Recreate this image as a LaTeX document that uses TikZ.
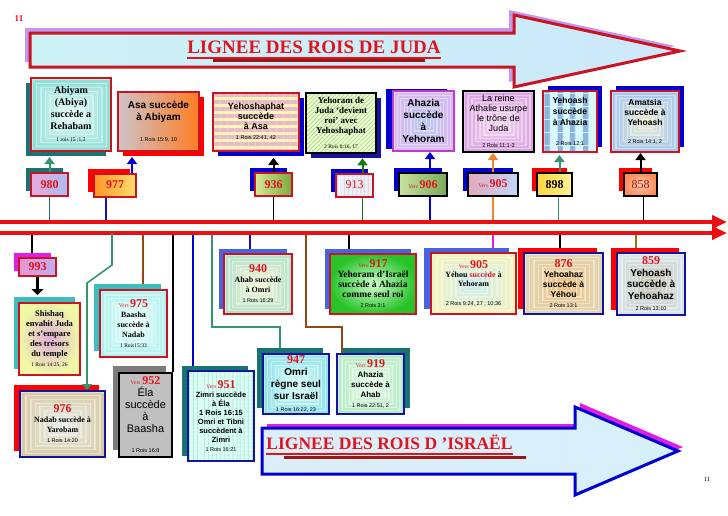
\documentclass[tikz,border=0pt]{standalone}
\usepackage{fontspec}
\setmainfont{Liberation Serif}
\setsansfont{Liberation Sans}
\usepackage{tikz}
\usetikzlibrary{arrows.meta, shadows, patterns.meta, backgrounds, calc}

\definecolor{vred}{RGB}{225,20,30}
\definecolor{bred}{RGB}{200,20,35}
\definecolor{dred}{RGB}{150,25,20}
\definecolor{tred}{RGB}{235,15,15}
\definecolor{kteal}{RGB}{25,115,115}
\definecolor{lteal}{RGB}{60,190,190}
\definecolor{kblue}{RGB}{0,0,210}
\definecolor{rblue}{RGB}{70,100,225}
\definecolor{knavy}{RGB}{20,20,160}
\definecolor{kmag}{RGB}{225,30,225}
\definecolor{lilac}{RGB}{195,150,240}
\definecolor{sgreen}{RGB}{50,150,110}
\definecolor{dgreen}{RGB}{20,120,20}
\definecolor{korange}{RGB}{240,130,50}
\definecolor{kbrown}{RGB}{150,70,20}
\definecolor{kolive}{RGB}{140,120,20}
\definecolor{kpurple}{RGB}{190,60,200}
\definecolor{kgray}{RGB}{125,125,125}
% fills
\definecolor{asagray}{RGB}{205,195,200}
\definecolor{asaorange}{RGB}{255,125,35}
\definecolor{ylight}{RGB}{255,245,185}
\definecolor{ypink}{RGB}{232,185,200}
\definecolor{ygreen}{RGB}{235,255,205}
\definecolor{hgreen}{RGB}{170,210,150}
\definecolor{ycyan}{RGB}{215,248,252}
\definecolor{ysteel}{RGB}{140,180,220}
\definecolor{zcyan}{RGB}{220,255,245}
\definecolor{zline}{RGB}{160,225,210}
\definecolor{silver}{RGB}{192,192,192}
\definecolor{shqin}{RGB}{225,175,215}
\definecolor{shqout}{RGB}{240,248,165}
\definecolor{gin}{RGB}{205,255,205}
\definecolor{gout}{RGB}{40,195,40}
\definecolor{jleft}{RGB}{205,242,246}
\definecolor{jmid}{RGB}{255,255,190}
\definecolor{jright}{RGB}{205,232,250}
\definecolor{ileft}{RGB}{220,238,248}
\definecolor{imid}{RGB}{248,212,224}
\definecolor{iright}{RGB}{215,240,250}
% concentric pairs
\definecolor{abiI}{RGB}{235,255,252}\definecolor{abiO}{RGB}{140,220,212}
\definecolor{ahzI}{RGB}{185,200,240}\definecolor{ahzO}{RGB}{220,185,240}
\definecolor{athI}{RGB}{248,216,240}\definecolor{athO}{RGB}{215,160,224}
\definecolor{amtI}{RGB}{240,240,208}\definecolor{amtO}{RGB}{160,196,240}
\definecolor{qaI}{RGB}{248,248,216}\definecolor{qaO}{RGB}{176,224,200}
\definecolor{qbI}{RGB}{200,236,240}\definecolor{qbO}{RGB}{248,244,184}
\definecolor{qcI}{RGB}{240,192,128}\definecolor{qcO}{RGB}{224,216,184}
\definecolor{qdI}{RGB}{200,192,176}\definecolor{qdO}{RGB}{216,232,240}
\definecolor{qeI}{RGB}{240,255,252}\definecolor{qeO}{RGB}{168,240,236}
\definecolor{qfI}{RGB}{232,240,240}\definecolor{qfO}{RGB}{216,200,160}
\definecolor{qgI}{RGB}{216,255,248}\definecolor{qgO}{RGB}{144,224,232}
\definecolor{qhI}{RGB}{240,255,240}\definecolor{qhO}{RGB}{176,232,192}

% square "concentric frames" shading
\newcommand\defconc[3]{%
  \pgfdeclarefunctionalshading{#1}{\pgfpoint{-50bp}{-50bp}}{\pgfpoint{50bp}{50bp}}%
  {\pgfshadecolortorgb{#2}{\csin}\pgfshadecolortorgb{#3}{\csout}}%
  {abs exch abs 2 copy lt {exch} if pop 25 div dup 1 gt {pop 1} if
   dup 9 mul dup floor sub 0.65 gt {0.4} {0} ifelse exch
   dup \csoutred\space\csinred\space sub mul \csinred\space add
   2 index 1 index 1 exch sub mul add
   1 index \csoutgreen\space\csingreen\space sub mul \csingreen\space add
   3 index 1 index 1 exch sub mul add
   2 index \csoutblue\space\csinblue\space sub mul \csinblue\space add
   4 index 1 index 1 exch sub mul add
   5 -2 roll pop pop}}
\defconc{cabi}{abiI}{abiO}
\defconc{cahz}{ahzI}{ahzO}
\defconc{cath}{athI}{athO}
\defconc{camt}{amtI}{amtO}
\defconc{cqa}{qaI}{qaO}
\defconc{cqb}{qbI}{qbO}
\defconc{cqc}{qcI}{qcO}
\defconc{cqd}{qdI}{qdO}
\defconc{cqe}{qeI}{qeO}
\defconc{cqf}{qfI}{qfO}
\defconc{cqg}{qgI}{qgO}
\defconc{cqh}{qhI}{qhO}

\newcommand\yrn[1]{{\rmfamily\bfseries\color{vred}\fontsize{12}{13}\selectfont #1}}
\newcommand\versyr[1]{{\rmfamily\mdseries\color{vred}\fontsize{5.5}{6}\selectfont Vers}\,\yrn{#1}}
\newcommand\rref[1]{{\mdseries\fontsize{5.5}{6.5}\selectfont #1}}

\begin{document}
\begin{tikzpicture}[x=1pt, y=-1pt,
  every node/.style={font=\small},
  shd/.style n args={3}{drop shadow={shadow xshift=#1, shadow yshift=#2, fill=#3, opacity=1}},
  kbox/.style={draw=bred, line width=2pt, align=center, inner sep=1pt},
  ybox/.style={kbox, minimum height=23pt, font=\rmfamily\bfseries},
  uarr/.style={line width=2pt, -{Triangle[length=7pt,width=10pt]}},
  dline/.style={line width=1.6pt},
  tline/.style={tred, line width=4pt, -{Triangle[length=15pt,width=13pt]}},
  ltitle/.style={text=vred, font=\rmfamily\bfseries\fontsize{#1}{20}\selectfont, inner sep=0pt},
]
\useasboundingbox (0,0) rectangle (728,515);
\begin{scope}[on background layer]
  \fill[white] (0,0) rectangle (728,515);
\end{scope}

\node[text=vred, font=\rmfamily\bfseries\fontsize{9}{10}\selectfont] (pgtop) at (19,19) {11};
\node[font=\rmfamily\fontsize{6.5}{7}\selectfont] (pgbot) at (707,479) {11};

% ── Title arrows ──
\draw[bred, line width=3pt, shd={-5pt}{5pt}{lilac}, left color=jleft, middle color=jmid, right color=jright]
  (30,33) -- (514,33) -- (514,15) -- (680,51) -- (514,87) -- (514,67) -- (30,67) -- cycle;
\node[ltitle=19] (tjuda) at (314,47.5) {LIGNEE DES ROIS DE JUDA};
\draw[vred, line width=2pt] ([yshift=-4pt]tjuda.base west) -- ([yshift=-4pt]tjuda.base east);
\draw[dred, line width=2.5pt] ([xshift=26pt,yshift=-7pt]tjuda.base west) -- ([xshift=-16pt,yshift=-7pt]tjuda.base east);

\draw[kblue, line width=3pt, shd={5pt}{4pt}{kmag}, left color=ileft, middle color=imid, right color=iright]
  (262,428) -- (575,428) -- (575,407) -- (678,451) -- (575,495) -- (575,474) -- (262,474) -- cycle;
\node[ltitle=17.5] (tisr) at (389.5,442.5) {LIGNEE DES ROIS D ’ISRAËL};
\draw[vred, line width=2pt] ([yshift=-4pt]tisr.base west) -- ([yshift=-4pt]tisr.base east);
\draw[dred, line width=2.5pt] ([xshift=18pt,yshift=-8pt]tisr.base west) -- ([xshift=13pt,yshift=-8pt]tisr.base east);

% ── Timeline ──
\coordinate (tlA) at (0,222);
\coordinate (tlAend) at (727,222);
\coordinate (tlB) at (0,233);
\coordinate (tlBend) at (727,233);
\draw[tline] (tlA) -- (tlAend);
\draw[tline] (tlB) -- (tlBend);

% ── Juda reigns ──
\node[kbox, shd={-5pt}{-5pt}{kteal}, shading=cabi, minimum width=80pt, minimum height=73pt,
      font=\rmfamily\bfseries\fontsize{10}{12}\selectfont] (abiyam) at (71,114.5)
      {Abiyam\\(Abiya)\\succède a\\Rehabam\\\rref{1 rois 15 :1,2}};
\node[kbox, shd={5pt}{-5pt}{red}, left color=asagray, right color=asaorange, minimum width=81pt, minimum height=59pt,
      font=\sffamily\bfseries\fontsize{10}{12}\selectfont] (asa) at (158.5,121.5)
      {Asa succède\\à Abiyam\\[9pt]\rref{1 Rois 15:9, 10}};
\node[kbox, shd={5pt}{-5pt}{kblue}, preaction={fill=ylight}, pattern={Lines[angle=0,distance=7pt,line width=3.5pt]},
      pattern color=ypink, minimum width=86pt, minimum height=58pt,
      font=\sffamily\bfseries\fontsize{9}{10}\selectfont] (ysh) at (256,122)
      {Yehoshaphat\\succède\\à Asa\\\rref{1 Rois 22:41, 42}};
\node[kbox, draw=black, shd={5pt}{-5pt}{knavy}, preaction={fill=ygreen}, pattern={Lines[angle=45,distance=3pt,line width=0.6pt]},
      pattern color=hgreen, minimum width=70pt, minimum height=60pt,
      font=\rmfamily\bfseries\fontsize{9}{10}\selectfont] (yhr) at (341,123)
      {Yehoram de\\Juda ‘devient\\roi’ avec\\Yehoshaphat\\[5pt]\rref{2 Rois 8:16, 17}};
\node[kbox, draw=kpurple, shd={-7pt}{2pt}{kblue}, shading=cahz, minimum width=61pt, minimum height=60pt,
      font=\sffamily\bfseries\fontsize{10}{12}\selectfont] (ahz) at (423.5,121)
      {Ahazia\\succède\\à\\Yehoram};
\node[kbox, draw=black, shading=cath, minimum width=71pt, minimum height=61pt,
      font=\sffamily\fontsize{9}{10}\selectfont] (ath) at (498.5,121.5)
      {La reine\\Athalie usurpe\\le trône de\\Juda\\[6pt]\rref{2 Rois 11:1-3}};
\node[kbox, shd={5pt}{5pt}{kblue}, preaction={fill=ycyan}, pattern={Lines[angle=90,distance=13pt,line width=6pt]},
      pattern color=ysteel, minimum width=54pt, minimum height=61pt,
      font=\sffamily\bfseries\fontsize{8.5}{11}\selectfont] (yhs) at (570,121.5)
      {Yehoash\\succède\\à Ahazia\\[9pt]\rref{2 Rois 12:1}};
\node[kbox, shd={5pt}{5pt}{kblue}, shading=camt, minimum width=68pt, minimum height=61pt,
      font=\sffamily\bfseries\fontsize{8.5}{10}\selectfont] (amt) at (645,121.5)
      {Amatsia\\succède à\\Yehoash\\[8pt]\rref{2 Rois 14:1, 2}};

% ── Juda dates ──
\node[ybox, shd={-5pt}{5pt}{kteal}, left color={rgb,255:red,230;green,170;blue,220}, right color={rgb,255:red,170;green,190;blue,240},
      minimum width=37pt] (y980) at (49.5,184.5) {\yrn{980}};
\node[ybox, shd={-6pt}{5pt}{red}, left color={rgb,255:red,255;green,150;blue,40}, right color={rgb,255:red,255;green,222;blue,110},
      minimum width=42pt] (y977) at (115,185) {\yrn{977}};
\node[ybox, shd={-5pt}{5pt}{kblue}, left color={rgb,255:red,215;green,232;blue,150}, right color={rgb,255:red,120;green,170;blue,60},
      minimum width=37pt] (y936) at (273.5,184.5) {\yrn{936}};
\node[ybox, shd={-5pt}{5pt}{kblue}, preaction={fill={rgb,255:red,230;green,244;blue,252}},
      pattern={Lines[angle=90,distance=4pt,line width=1pt]}, pattern color={rgb,255:red,240;green,190;blue,205},
      minimum width=37pt] (y913) at (354.5,185) {{\color{vred}\mdseries\fontsize{12}{13}\selectfont 913}};
\node[ybox, draw=black, shd={-5pt}{5pt}{kblue}, left color={rgb,255:red,200;green,225;blue,160}, right color={rgb,255:red,120;green,170;blue,90},
      minimum width=48pt] (y906) at (423,184.5) {\versyr{906}};
\node[ybox, draw=black, shd={-5pt}{5pt}{kblue}, left color={rgb,255:red,225;green,170;blue,190}, right color={rgb,255:red,190;green,215;blue,250},
      minimum width=50pt] (y905) at (493,184) {\versyr{905}};
\node[ybox, draw=black, shd={-5pt}{5pt}{red}, left color={rgb,255:red,255;green,212;blue,60}, right color={rgb,255:red,255;green,245;blue,150},
      minimum width=35pt] (y898) at (554.5,184.5) {\fontsize{12}{13}\selectfont 898};
\node[ybox, draw=black, shd={-5pt}{5pt}{red}, inner color={rgb,255:red,255;green,205;blue,175}, outer color={rgb,255:red,255;green,140;blue,90},
      minimum width=33pt] (y858) at (640.5,184.5) {{\color{dred}\mdseries\fontsize{12}{13}\selectfont 858}};

% ── Date → reign ──
\draw[uarr, sgreen] (y980.north) -- ([yshift=-5pt]y980.north |- abiyam.south);
\draw[uarr, kblue] ([xshift=17pt]y977.north) -- ([yshift=-5pt]$(y977.north |- asa.south)+(17,0)$);
\draw[uarr, black] (y936.north) -- ([yshift=-5pt]y936.north |- ysh.south);
\draw[uarr, dgreen] ([xshift=8pt]y913.north) -- ([yshift=-5pt]$(y913.north |- yhr.south)+(8,0)$);
\draw[uarr, kblue] ([xshift=7pt]y906.north) -- ($(y906.north |- ahz.south)+(7,0)$);
\draw[uarr, korange] (y905.north) -- (y905.north |- ath.south);
\draw[uarr, sgreen] ([xshift=5pt]y898.north) -- ($(y898.north |- yhs.south)+(5,0)$);
\draw[uarr, black] (y858.north) -- (y858.north |- amt.south);

% ── Israel reigns ──
\node[ybox, minimum height=18pt, shd={-5pt}{5pt}{kmag}, left color={rgb,255:red,230;green,150;blue,210}, right color={rgb,255:red,190;green,175;blue,240},
      minimum width=37pt] (y993) at (37.5,267) {\yrn{993}};
\node[kbox, shd={-5pt}{6pt}{lteal}, inner color=shqin, outer color=shqout, minimum width=61pt, minimum height=72pt,
      font=\rmfamily\bfseries\fontsize{8.5}{10}\selectfont] (shq) at (49.5,339)
      {Shishaq\\envahit Juda\\et s’empare\\des trésors\\du temple\\\rref{1 Rois 14:25, 26}};
\node[kbox, shd={-6pt}{6pt}{lteal}, shading=cqe, minimum width=67pt, minimum height=67pt,
      font=\rmfamily\bfseries\fontsize{8}{10}\selectfont] (bsa) at (133.5,323.5)
      {\versyr{975}\\Baasha\\succède à\\Nadab\\\rref{1 Rois15:33}};
\node[kbox, shd={-5pt}{5pt}{rblue}, shading=cqa, minimum width=68pt, minimum height=60pt,
      font=\rmfamily\bfseries\fontsize{8}{10}\selectfont] (a940) at (258,284)
      {\yrn{940}\\Ahab succède\\à Omri\\\rref{\sffamily 1 Rois 16:29}};
\node[kbox, shd={-5pt}{5pt}{rblue}, inner color=gin, outer color=gout, minimum width=86pt, minimum height=60pt,
      font=\rmfamily\bfseries\fontsize{9.5}{10}\selectfont] (a917) at (373,284)
      {\versyr{917}\\Yehoram d’Israël\\succède à Ahazia\\comme seul roi\\\rref{\sffamily 2 Rois 3:1}};
\node[kbox, shd={-7pt}{5pt}{rblue}, shading=cqb, minimum width=85pt, minimum height=61pt,
      font=\rmfamily\bfseries\fontsize{8}{9}\selectfont] (a905) at (473.5,283.5)
      {\versyr{905}\\Yéhou {\color{vred}succède} à\\Yehoram\\[10pt]\rref{\sffamily 2 Rois 9:24, 27 ; 10:36}};
\node[kbox, draw=knavy, shd={-6pt}{5pt}{red}, shading=cqc, minimum width=79pt, minimum height=61pt,
      font=\sffamily\bfseries\fontsize{8.5}{10}\selectfont] (a876) at (563.5,283.5)
      {\yrn{876}\\Yehoahaz\\succède à\\Yéhou\\\rref{2 Rois 13:1}};
\node[kbox, draw=knavy, shd={-6pt}{5pt}{red}, shading=cqd, minimum width=68pt, minimum height=62pt,
      font=\sffamily\bfseries\fontsize{10}{11.5}\selectfont] (a859) at (651,284)
      {\yrn{859}\\Yehoash\\succède à\\Yehoahaz\\\rref{2 Rois 13:10}};
\node[kbox, draw=knavy, shd={-6pt}{6pt}{red}, shading=cqf, minimum width=85pt, minimum height=66pt,
      font=\rmfamily\bfseries\fontsize{8}{10}\selectfont] (a976) at (62.5,424)
      {\yrn{976}\\Nadab succède à\\Yarobam\\\rref{\sffamily 1 Rois 14:20}};
\node[kbox, draw=black, shd={-6pt}{7pt}{kgray}, fill=silver, minimum width=53pt, minimum height=84pt,
      font=\sffamily\fontsize{11}{12}\selectfont] (ela) at (145.5,415)
      {\versyr{952}\\Éla\\succède\\à\\Baasha\\[8pt]\rref{1 Rois 16:8}};
\node[kbox, draw=knavy, shd={-6pt}{5pt}{kteal}, preaction={fill=zcyan}, pattern={Lines[angle=90,distance=4pt,line width=1.5pt]},
      pattern color=zline, minimum width=66pt, minimum height=90pt,
      font=\sffamily\bfseries\fontsize{7.5}{9}\selectfont] (zmr) at (221,416)
      {\versyr{951}\\Zimri succède\\à Éla\\1 Rois 16:15\\Omri et Tibni\\succèdent à\\Zimri\\\rref{1 Rois 16:21}};
\node[kbox, draw=knavy, shd={-6pt}{6pt}{kteal}, shading=cqg, minimum width=66pt, minimum height=60pt,
      font=\sffamily\bfseries\fontsize{10}{12}\selectfont] (omr) at (296,384)
      {\yrn{947}\\Omri\\règne seul\\sur Israël\\\rref{1 Rois 16:22, 23}};
\node[kbox, draw=knavy, shd={6pt}{6pt}{kteal}, shading=cqh, minimum width=67pt, minimum height=60pt,
      font=\sffamily\bfseries\fontsize{8}{10}\selectfont] (ahb) at (370.5,384)
      {\versyr{919}\\Ahazia\\succède à\\Ahab\\\rref{1 Rois 22:51, 2}};

% ── Arrows below the timeline ──
\coordinate (kA) at (112,265);
\coordinate (kB) at (87,283);
\coordinate (kC) at (212,327);
\coordinate (kD) at (306,327);
\draw[line width=3pt, -{Triangle[length=6pt,width=12pt]}] (y993.south) -- ($(y993.south |- shq.north)+(0,-7)$);
\draw[dline, sgreen, -{Triangle[length=6pt,width=10pt]}] (kA |- tlB) -- (kA) -- (kB) -- (kB |- a976.north);

% ── Date lines ──
\begin{scope}[on background layer]
\draw[dline, kteal]   (y980.south) -- (y980.south |- tlA);
\draw[dline, knavy]   ([xshift=-9pt]y977.south) -- ([xshift=-9pt]y977.south |- tlA);
\draw[dline, black]   (y936.south) -- (y936.south |- tlA);
\draw[dline, dgreen]  ([xshift=8pt]y913.south) -- ([xshift=8pt]y913.south |- tlA);
\draw[dline, kblue]   ([xshift=7pt]y906.south) -- ([xshift=7pt]y906.south |- tlA);
\draw[dline, korange] (y905.south) -- (y905.south |- tlA);
\draw[dline, sgreen]  ([xshift=4pt]y898.south) -- ([xshift=4pt]y898.south |- tlA);
\draw[dline, black]   ([xshift=3pt]y858.south) -- ([xshift=3pt]y858.south |- tlA);

\draw[dline, black]   ([xshift=-5.5pt]y993.north |- tlB) -- ([xshift=-5.5pt]y993.north);
\draw[dline, kbrown]  ([xshift=9.5pt]bsa.north |- tlB) -- ([xshift=9.5pt]bsa.north);
\draw[dline, black]   (ela.north east |- tlB) -- (ela.north east);
\draw[dline, kblue]   ([xshift=-28pt]zmr.north |- tlB) -- ([xshift=-28pt]zmr.north);
\draw[dline, sgreen]  (kC |- tlB) -- (kC) -- ([xshift=-16pt]omr.north |- kC) -- ([xshift=-16pt]omr.north);
\draw[dline, knavy]   ([xshift=-8pt]a940.north |- tlB) -- ([xshift=-8pt]a940.north);
\draw[dline, kbrown]  (kD |- tlB) -- (kD) -- ([xshift=-28.5pt]ahb.north |- kD) -- ([xshift=-28.5pt]ahb.north);
\draw[dline, black]   ([xshift=-24pt]a917.north |- tlB) -- ([xshift=-24pt]a917.north);
\draw[dline, kmag]    ([xshift=19.5pt]a905.north |- tlB) -- ([xshift=19.5pt]a905.north);
\draw[dline, black]   ([xshift=-3.5pt]a876.north |- tlB) -- ([xshift=-3.5pt]a876.north);
\draw[dline, kolive]  ([xshift=-15pt]a859.north |- tlB) -- ([xshift=-15pt]a859.north);
\end{scope}

\end{tikzpicture}
\end{document}
